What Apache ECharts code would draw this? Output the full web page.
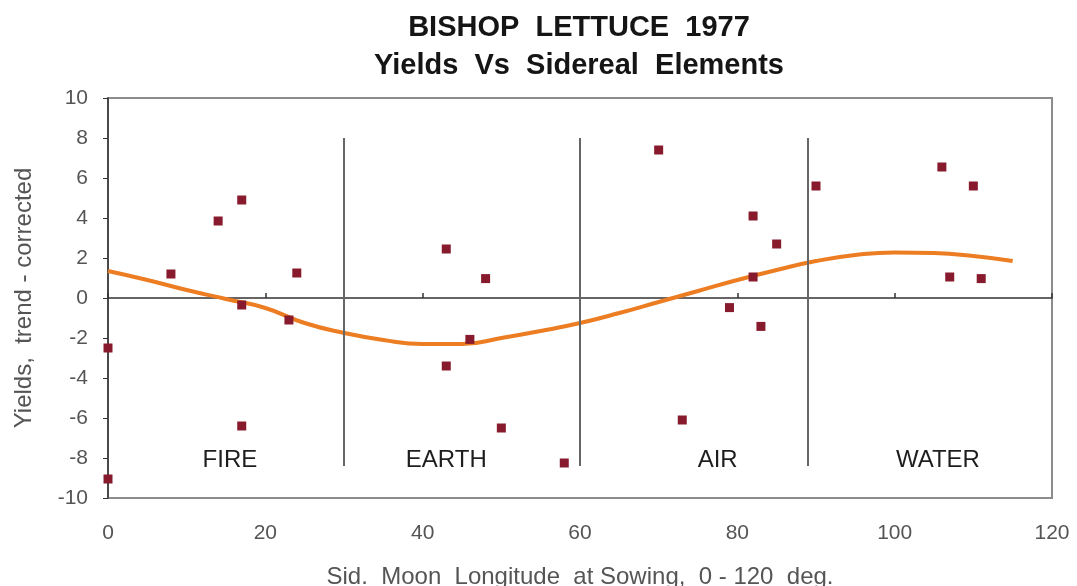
<!DOCTYPE html>
<html>
<head>
<meta charset="utf-8">
<script src="https://cdn.jsdelivr.net/npm/echarts@6/dist/echarts.min.js"></script>
<style>
  html, body { margin: 0; padding: 0; background: #fff; }
  #chart { width: 1077px; height: 586px; }
</style>
</head>
<body>
<div id="chart"></div>
<script>
// Sowing longitude (deg, 0-120 sidereal) and trend-corrected yield of each sowing
const sowingLongitude = [0, 0, 8, 14, 17, 17, 17, 23, 24, 43, 43, 46, 48, 50, 58, 70, 73, 79, 82, 82, 83, 85, 90, 106, 107, 110, 111];
const correctedYield  = [-2.5, -9.05, 1.2, 3.85, 4.9, -0.35, -6.4, -1.1, 1.25, 2.45, -3.4, -2.07, 0.97, -6.5, -8.25, 7.4, -6.1, -0.48, 4.1, 1.05, -1.42, 2.7, 5.6, 6.55, 1.05, 5.6, 0.97];

// Fitted trend curve, sampled along the longitude range
const trendLongitude = [0, 5, 10, 15, 20, 25, 30, 35, 40, 45, 50, 55, 60, 65, 70, 75, 80, 85, 90, 95, 100, 105, 110, 115];
const trendYield     = [1.35, 0.9, 0.4, -0.05, -0.5, -1.25, -1.75, -2.1, -2.3, -2.3, -2.0, -1.65, -1.25, -0.75, -0.2, 0.35, 0.9, 1.4, 1.85, 2.15, 2.28, 2.25, 2.1, 1.85];

// Element boundaries and names
const elementBoundaries = [30, 60, 89];
const boundaryTop = 8;
const boundaryBottom = -8.4;
const elementNames = ['FIRE', 'EARTH', 'AIR', 'WATER'];
const elementLabelX = [15.5, 43, 77.5, 105.5];
const elementLabelY = -8.1;

const xTicks = [0, 20, 40, 60, 80, 100, 120];
const yMin = -10, yMax = 10, yStep = 2;

const font = '"Liberation Sans", Arial, sans-serif';

const chart = echarts.init(document.getElementById('chart'), null, { renderer: 'canvas' });

const option = {
  backgroundColor: '#ffffff',
  animation: false,
  title: {
    text: 'BISHOP  LETTUCE  1977\nYields  Vs  Sidereal  Elements',
    left: 574,
    textAlign: 'center',
    top: 4,
    textStyle: {
      fontFamily: font,
      fontWeight: 'bold',
      fontSize: 29,
      lineHeight: 38,
      color: '#151515'
    }
  },
  grid: {
    left: 108, right: 25, top: 98, bottom: 88,
    outerBoundsMode: 'none',
    containLabel: false,
    show: true,
    borderColor: '#8c8c8c',
    borderWidth: 2,
    backgroundColor: '#fff'
  },
  xAxis: [
    {
      type: 'value',
      min: xTicks[0], max: xTicks[xTicks.length - 1], interval: 20,
      position: 'bottom',
      name: 'Sid.  Moon  Longitude  at Sowing,  0 - 120  deg.',
      nameLocation: 'middle',
      nameGap: 67,
      nameTextStyle: { fontFamily: font, fontSize: 24, color: '#555' },
      axisLine: { show: false, onZero: false },
      axisTick: { show: false },
      splitLine: { show: false },
      axisLabel: { fontFamily: font, fontSize: 21, color: '#555', margin: 25 }
    },
    {
      // axis line drawn along yield = 0 with small upward ticks
      type: 'value',
      min: xTicks[0], max: xTicks[xTicks.length - 1], interval: 20,
      position: 'bottom',
      axisLine: { show: true, onZero: true, lineStyle: { color: '#333', width: 1.5 } },
      axisTick: { show: true, inside: true, length: 5, lineStyle: { color: '#333', width: 1.5 } },
      axisLabel: { show: false },
      splitLine: { show: false }
    }
  ],
  yAxis: {
    type: 'value',
    min: yMin, max: yMax, interval: yStep,
    name: 'Yields,  trend - corrected',
    nameLocation: 'middle',
    nameGap: 72,
    nameTextStyle: { fontFamily: font, fontSize: 24, color: '#555' },
    axisLine: { show: true, onZero: false, lineStyle: { color: '#333', width: 1.5 } },
    axisTick: { show: true, inside: false, length: 5, lineStyle: { color: '#333' } },
    axisLabel: { fontFamily: font, fontSize: 21, color: '#555', margin: 20 },
    splitLine: { show: false }
  },
  series: [
    {
      name: 'Element boundaries',
      type: 'line',
      data: [],
      silent: true,
      markLine: {
        symbol: 'none',
        silent: true,
        label: { show: false },
        lineStyle: { color: '#666', width: 2, type: 'solid' },
        data: elementBoundaries.map(b => [
          { coord: [b, boundaryTop] },
          { coord: [b, boundaryBottom] }
        ])
      }
    },
    {
      name: 'Trend',
      type: 'line',
      smooth: true,
      showSymbol: false,
      lineStyle: { color: '#ec7d22', width: 4 },
      data: trendLongitude.map((x, i) => [x, trendYield[i]]),
      z: 3
    },
    {
      name: 'Yield',
      type: 'scatter',
      symbol: 'rect',
      symbolSize: 9,
      itemStyle: { color: '#871a2c', opacity: 1 },
      data: sowingLongitude.map((x, i) => [x, correctedYield[i]]),
      z: 4
    },
    {
      name: 'Elements',
      type: 'scatter',
      symbolSize: 0,
      silent: true,
      itemStyle: { opacity: 1 },
      label: {
        show: true,
        position: 'inside',
        formatter: p => p.name,
        fontFamily: font,
        fontSize: 24,
        color: '#1e1e1e'
      },
      data: elementNames.map((n, i) => ({ name: n, value: [elementLabelX[i], elementLabelY] }))
    }
  ]
};

chart.setOption(option);
</script>
</body>
</html>
